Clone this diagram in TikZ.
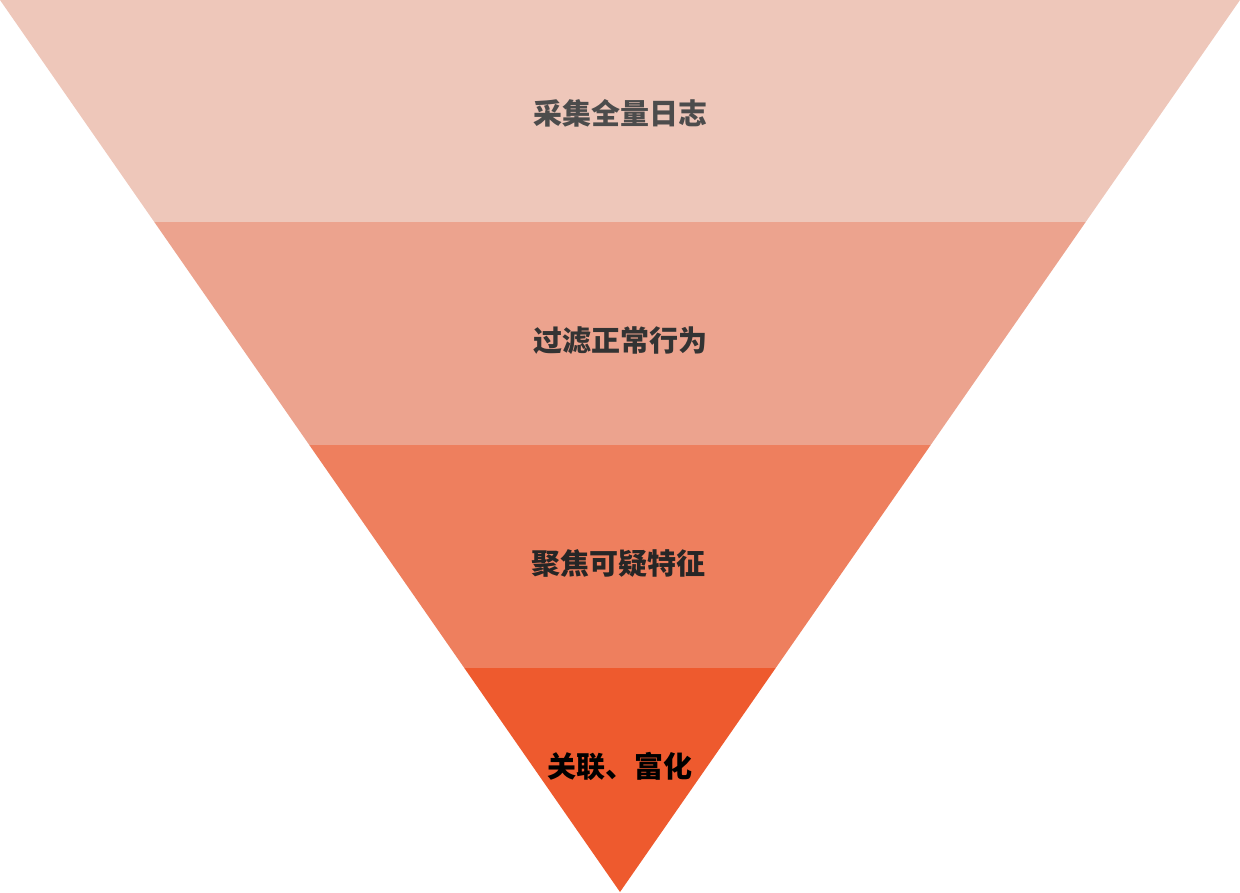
\documentclass[tikz,border=0pt]{standalone}
\usepackage{fontspec}
\newfontfamily\cjk{Noto Sans CJK SC}
\definecolor{cA}{HTML}{EEC7BA}
\definecolor{cB}{HTML}{ECA38E}
\definecolor{cC}{HTML}{EE7F5E}
\definecolor{cD}{HTML}{EE5A2E}
\tikzset{lbl/.style={font=\cjk\bfseries\fontsize{29}{32}\selectfont, inner sep=0pt}}
\begin{document}
\begin{tikzpicture}[x=1pt,y=-1pt]
\useasboundingbox (0,0) rectangle (1240,892);
\fill[cA] (0,0) -- (1240,0) -- (1085.7,222) -- (154.3,222) -- cycle;
\fill[cB] (154.3,222) -- (1085.7,222) -- (930.7,445) -- (309.3,445) -- cycle;
\fill[cC] (309.3,445) -- (930.7,445) -- (775.7,668) -- (464.3,668) -- cycle;
\fill[cD] (464.3,668) -- (775.7,668) -- (620,892) -- cycle;
\node[lbl, text=black!70] (t1) at (620,113) {采集全量日志};
\node[lbl, text=black!80] (t2) at (620,341) {过滤正常行为};
\node[lbl, text=black!85] (t3) at (618,563) {聚焦可疑特征};
\node[lbl, text=black] (t4) at (620,766) {关联、富化};
\end{tikzpicture}
\end{document}
